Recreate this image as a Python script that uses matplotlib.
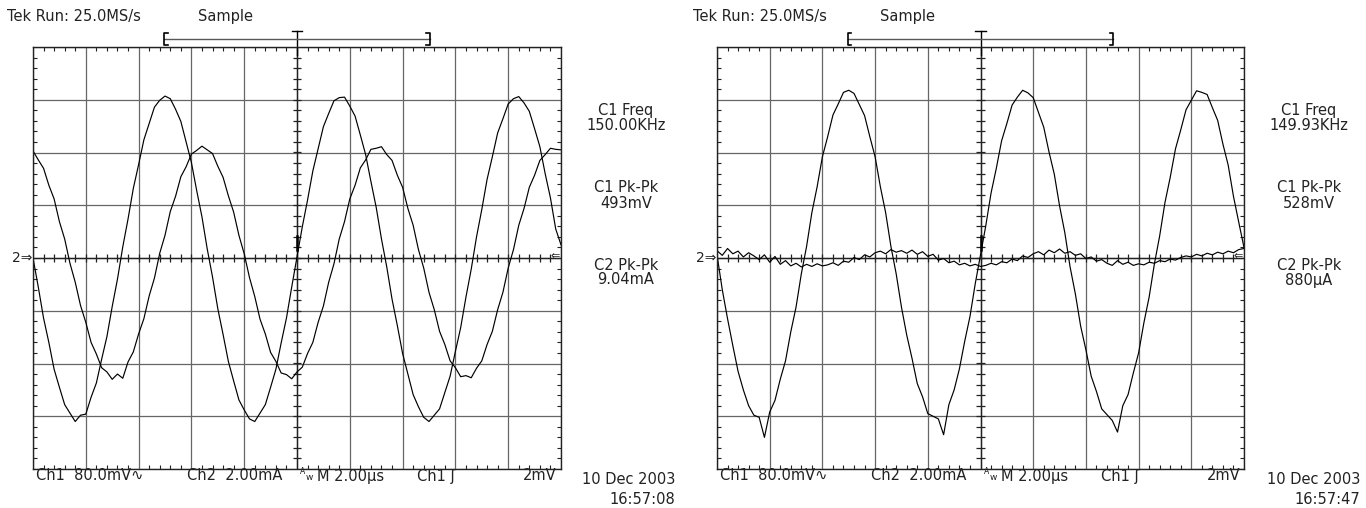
import matplotlib
matplotlib.use("Agg")
import matplotlib.pyplot as plt
import numpy as np
from matplotlib.ticker import MultipleLocator

plt.rcParams['font.family'] = ['DejaVu Sans']

W, H = 1366, 508

# traces, one sample every 0.1 division (10 divisions across)
left_ch1 = [
    0.00, -0.55, -1.14, -1.60, -2.11, -2.45, -2.78, -2.94, -3.10, -2.98,
    -2.96, -2.64, -2.37, -1.92, -1.49, -0.92, -0.40, 0.21, 0.74, 1.32,
    1.77, 2.24, 2.55, 2.86, 2.99, 3.07, 3.02, 2.82, 2.59, 2.20,
    1.81, 1.28, 0.78, 0.17, -0.36, -0.96, -1.45, -1.96, -2.33, -2.69,
    -2.88, -3.05, -3.10, -2.94, -2.78, -2.45, -2.11, -1.61, -1.14, -0.55,
    0.02, 0.59, 1.10, 1.65, 2.07, 2.49, 2.74, 2.98, 3.04, 3.05,
    2.88, 2.69, 2.33, 1.96, 1.45, 0.96, 0.36, -0.17, -0.78, -1.28,
    -1.81, -2.20, -2.59, -2.82, -3.02, -3.10, -2.98, -2.86, -2.55, -2.24,
    -1.77, -1.32, -0.74, -0.21, 0.40, 0.92, 1.49, 1.92, 2.37, 2.64,
    2.92, 3.02, 3.06, 2.94, 2.78, 2.45, 2.11, 1.60, 1.14, 0.55,
    0.25]
left_ch2 = [
    2.03, 1.86, 1.70, 1.38, 1.12, 0.69, 0.36, -0.10, -0.46, -0.90,
    -1.22, -1.60, -1.82, -2.08, -2.16, -2.30, -2.20, -2.28, -1.97, -1.78,
    -1.44, -1.15, -0.72, -0.38, 0.09, 0.43, 0.88, 1.17, 1.54, 1.73,
    1.97, 2.04, 2.12, 2.05, 1.98, 1.74, 1.53, 1.18, 0.87, 0.43,
    0.08, -0.37, -0.73, -1.16, -1.44, -1.79, -1.96, -2.18, -2.21, -2.29,
    -2.16, -2.07, -1.81, -1.60, -1.22, -0.91, -0.46, -0.11, 0.36, 0.69,
    1.12, 1.38, 1.71, 1.86, 2.06, 2.08, 2.11, 1.96, 1.85, 1.57,
    1.34, 0.94, 0.62, 0.16, -0.19, -0.65, -0.98, -1.39, -1.64, -1.95,
    -2.08, -2.25, -2.23, -2.27, -2.09, -1.95, -1.64, -1.39, -0.98, -0.65,
    -0.19, 0.16, 0.62, 0.94, 1.34, 1.57, 1.85, 1.96, 2.08, 2.06,
    2.05]
right_ch1 = [
    0.06, -0.60, -1.15, -1.66, -2.15, -2.50, -2.80, -2.98, -3.02, -3.40,
    -2.92, -2.70, -2.30, -1.95, -1.40, -0.93, -0.30, 0.22, 0.86, 1.35,
    1.92, 2.30, 2.71, 2.92, 3.14, 3.18, 3.12, 2.91, 2.70, 2.30,
    1.92, 1.35, 0.86, 0.22, -0.30, -0.93, -1.46, -1.90, -2.38, -2.63,
    -2.95, -3.00, -3.05, -3.35, -2.78, -2.50, -2.10, -1.58, -1.11, -0.49,
    0.06, 0.61, 1.23, 1.70, 2.22, 2.55, 2.90, 3.05, 3.18, 3.13,
    3.04, 2.76, 2.48, 2.01, 1.59, 0.99, 0.48, -0.17, -0.68, -1.29,
    -1.74, -2.24, -2.53, -2.86, -2.97, -3.08, -3.30, -2.80, -2.59, -2.18,
    -1.80, -1.23, -0.74, -0.11, 0.42, 1.05, 1.53, 2.07, 2.43, 2.81,
    2.99, 3.17, 3.14, 3.10, 2.85, 2.61, 2.16, 1.76, 1.17, 0.68,
    0.20]
right_ch2 = [
    0.14, 0.05, 0.18, 0.08, 0.13, 0.02, 0.10, 0.04, -0.03, 0.06,
    -0.08, 0.03, -0.12, -0.05, -0.15, -0.10, -0.17, -0.12, -0.16, -0.11,
    -0.15, -0.13, -0.09, -0.14, -0.06, -0.08, 0.01, -0.03, 0.06, 0.02,
    0.10, 0.13, 0.08, 0.16, 0.11, 0.14, 0.09, 0.15, 0.07, 0.12,
    0.03, 0.07, -0.04, -0.01, -0.09, -0.06, -0.13, -0.10, -0.15, -0.12,
    -0.16, -0.14, -0.10, -0.13, -0.07, -0.09, -0.02, -0.05, 0.04, 0.01,
    0.08, 0.12, 0.06, 0.15, 0.10, 0.17, 0.09, 0.12, 0.05, 0.08,
    -0.01, 0.02, -0.06, -0.03, -0.10, -0.14, -0.05, -0.12, -0.08, -0.14,
    -0.11, -0.13, -0.08, -0.10, -0.05, -0.07, -0.02, -0.04, 0.01, 0.04,
    0.02, 0.07, 0.04, 0.09, 0.06, 0.11, 0.08, 0.13, 0.10, 0.16,
    0.18]

left_meas = [("C1 Freq", "150.00KHz"), ("C1 Pk-Pk", "493mV"), ("C2 Pk-Pk", "9.04mA")]
right_meas = [("C1 Freq", "149.93KHz"), ("C1 Pk-Pk", "528mV"), ("C2 Pk-Pk", "880\u03bcA")]
left_time = "16:57:08"
right_time = "16:57:47"
date_str = "10 Dec 2003"
header = "Tek Run: 25.0MS/s"
mode = "Sample"

TXT = dict(color='#222222', fontsize=10.5)


def fx(x):
    return x / W


def fy(y):
    return 1 - y / H


def screen(ax, ch1, ch2):
    x = np.arange(len(ch1)) * 0.1
    ax.set_xlim(0, 10)
    ax.set_ylim(-4, 4)
    ax.xaxis.set_major_locator(MultipleLocator(1))
    ax.yaxis.set_major_locator(MultipleLocator(1))
    ax.xaxis.set_minor_locator(MultipleLocator(0.2))
    ax.yaxis.set_minor_locator(MultipleLocator(0.2))
    ax.tick_params(which='major', length=0, labelbottom=False, labelleft=False)
    ax.tick_params(which='minor', direction='in', length=3, width=0.8,
                   top=True, right=True, color='#222222')
    ax.grid(which='major', color='0.4', lw=0.9)
    for s in ax.spines.values():
        s.set_color('#222222')
        s.set_linewidth(1.0)
    # centre cross with its small ticks
    ax.axhline(0, color='#222222', lw=1)
    ax.axvline(5, color='#222222', lw=1)
    ticks = np.arange(0.2, 10, 0.2)
    ax.vlines(ticks, -0.08, 0.08, color='#222222', lw=0.9)
    ticks = np.arange(-3.8, 4, 0.2)
    ax.hlines(ticks, 4.92, 5.08, color='#222222', lw=0.9)
    ax.plot(x, ch1, color='black', lw=0.85)
    ax.plot(x, ch2, color='black', lw=0.85)
    # trigger position and record bracket above the screen
    ax.plot([4.9, 5.1], [4.3, 4.3], color='black', lw=1, clip_on=False)
    ax.plot([5, 5], [4.3, 3.85], color='black', lw=1, clip_on=False)
    ax.plot([2.48, 7.52], [4.15, 4.15], color='0.35', lw=1, clip_on=False)
    ax.plot([2.55, 2.48, 2.48, 2.55], [4.26, 4.26, 4.04, 4.04], color='black', lw=1.2, clip_on=False)
    ax.plot([7.45, 7.52, 7.52, 7.45], [4.26, 4.26, 4.04, 4.04], color='black', lw=1.2, clip_on=False)
    # trigger level marker
    ax.plot([5, 5], [0.15, 0.42], color='black', lw=1.8)
    ax.text(9.98, 0.03, '\u21d0', ha='right', va='center', fontsize=8, color='#222222')


fig = plt.figure(figsize=(W / 100, H / 100), dpi=100)
fig.patch.set_facecolor('white')

screens = [(33, 528, left_ch1, left_ch2, left_meas, left_time, 7, 198, 626, 675),
           (717, 527, right_ch1, right_ch2, right_meas, right_time, 693, 880, 1309, 1360)]

for x0, w, c1, c2, meas, tstamp, hx, sx, mx, dx in screens:
    ax = fig.add_axes([fx(x0), fy(469), fx(w), 422 / H])
    screen(ax, c1, c2)

    fig.text(fx(hx), fy(17), header, ha='left', va='center', **TXT)
    fig.text(fx(sx), fy(17), mode, ha='left', va='center', **TXT)

    for (name, val), yc in zip(meas, [111, 188, 265]):
        fig.text(fx(mx), fy(yc), name, ha='center', va='center', **TXT)
        fig.text(fx(mx), fy(yc + 15), val, ha='center', va='center', **TXT)

    fig.text(fx(x0 - 1), fy(258), '2\u21d2', ha='right', va='center', fontsize=10, color='#222222')

    by = 476
    fig.text(fx(x0 + 3), fy(by), 'Ch1  80.0mV\u223f', ha='left', va='center', **TXT)
    fig.text(fx(x0 + 154), fy(by), 'Ch2  2.00mA', ha='left', va='center', **TXT)
    fig.text(fx(x0 + 267), fy(by - 4), 'A', ha='left', va='center', fontsize=5.5, color='#222222')
    fig.text(fx(x0 + 273), fy(by + 2), 'w', ha='left', va='center', fontsize=6.5, color='#222222')
    fig.text(fx(x0 + 284), fy(by), 'M 2.00\u03bcs', ha='left', va='center', **TXT)
    fig.text(fx(x0 + 384), fy(by), 'Ch1 \u0283', ha='left', va='center', **TXT)
    fig.text(fx(x0 + w - 4), fy(by), '2mV', ha='right', va='center', **TXT)

    fig.text(fx(dx), fy(480), date_str, ha='right', va='center', **TXT)
    fig.text(fx(dx), fy(499), tstamp, ha='right', va='center', **TXT)

fig.savefig('out.png', dpi=100, facecolor='white')
